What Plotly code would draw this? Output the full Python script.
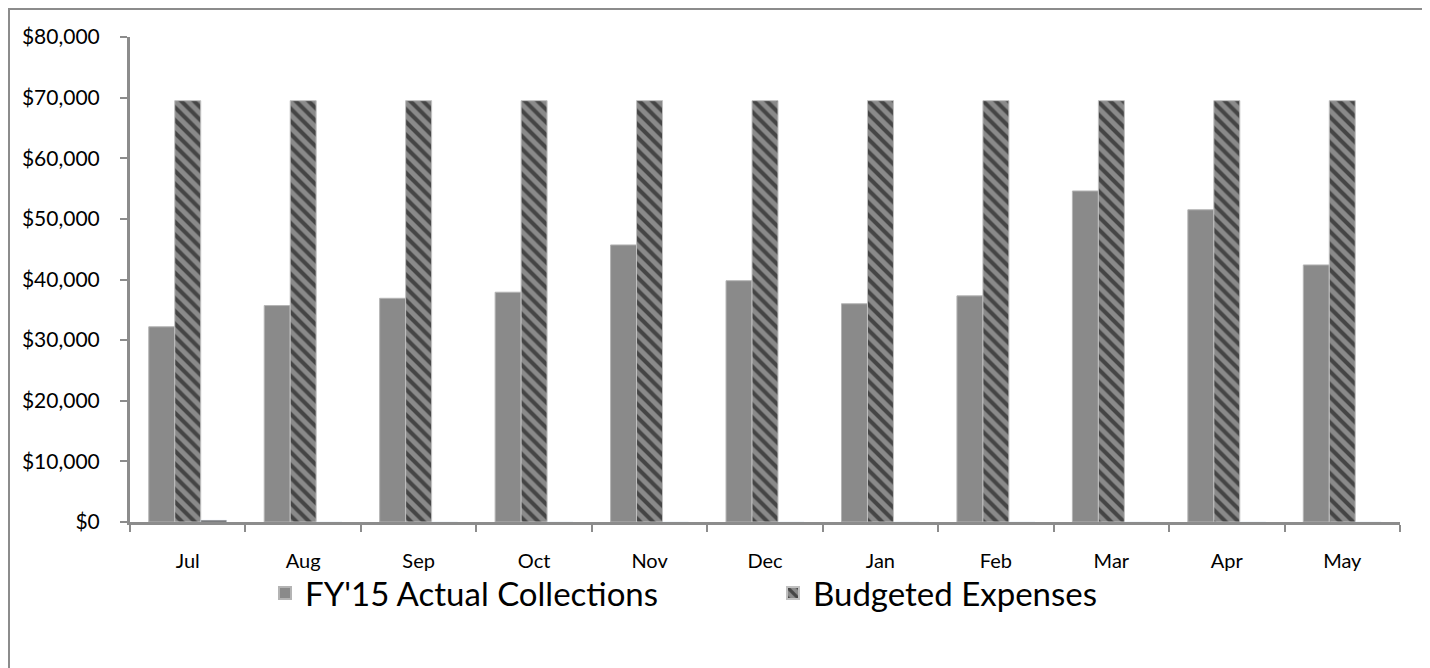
import plotly.graph_objects as go

months = ["Jul", "Aug", "Sep", "Oct", "Nov", "Dec", "Jan", "Feb", "Mar", "Apr", "May"]
collections = [32200, 35700, 36900, 37900, 45700, 39800, 36000, 37300, 54600, 51500, 42400]
budgeted = [69500] * 11
other = [300, 0, 0, 0, 0, 0, 0, 0, 0, 0, 0]
y_ticks = [0, 10000, 20000, 30000, 40000, 50000, 60000, 70000, 80000]
y_labels = ["$" + format(v, ",") for v in y_ticks]

FONT = "Lato"
W, H = 1422, 660
L, R, T, B = 122, 30, 29, 146
PW, PH = W - L - R, H - T - B

fig = go.Figure()
fig.add_trace(go.Bar(
    x=months, y=collections, name="FY'15 Actual Collections",
    marker=dict(color="#8a8a8a", line=dict(color="#b4b4b4", width=1)),
))
fig.add_trace(go.Bar(
    x=months, y=budgeted, name="Budgeted Expenses",
    marker=dict(color="#8a8a8a", line=dict(color="#c0c0c0", width=1),
                pattern=dict(shape="\\", fgcolor="#000000", bgcolor="#8a8a8a",
                             size=9, solidity=0.45, fillmode="overlay")),
))
fig.add_trace(go.Bar(
    x=months, y=other, name="Other", showlegend=False,
    marker=dict(color="#555555"),
))

fig.update_layout(
    width=W, height=H,
    paper_bgcolor="#e4eef8",
    plot_bgcolor="#ffffff",
    margin=dict(l=L, r=R, t=T, b=B, pad=0),
    barmode="group", bargap=0.325, bargroupgap=0,
    font=dict(family=FONT, color="#000000"),
    showlegend=True,
    legend=dict(orientation="h", x=135 / PW, xanchor="left", y=-71 / PH, yanchor="middle",
                font=dict(size=33, family=FONT, color="#000000"),
                entrywidth=463, entrywidthmode="pixels",
                bgcolor="rgba(0,0,0,0)", itemsizing="constant"),
    shapes=[dict(type="rect", xref="paper", yref="paper",
                 x0=-(L - 1) / PW, x1=(W - L - 4) / PW, y0=-(B + 10) / PH, y1=(PH + T - 1) / PH,
                 fillcolor="#ffffff", line=dict(color="#8c8c8c", width=2), layer="below")],
)
fig.update_xaxes(
    type="category", showline=True, linecolor="#8c8c8c", linewidth=3,
    ticks="outside", tickson="boundaries", ticklen=7, tickcolor="#8c8c8c", tickwidth=2,
    tickfont=dict(size=20, family=FONT, color="#000000"), showgrid=False,
    ticklabelstandoff=19,
)
fig.update_yaxes(
    range=[0, 80000], tickvals=y_ticks, ticktext=y_labels,
    showline=True, linecolor="#8c8c8c", linewidth=3,
    ticks="outside", ticklen=7, tickcolor="#8c8c8c", tickwidth=2,
    tickfont=dict(size=21, family=FONT, color="#000000"), showgrid=False, zeroline=False,
    ticklabelstandoff=16,
)

fig.write_html("out.html")
